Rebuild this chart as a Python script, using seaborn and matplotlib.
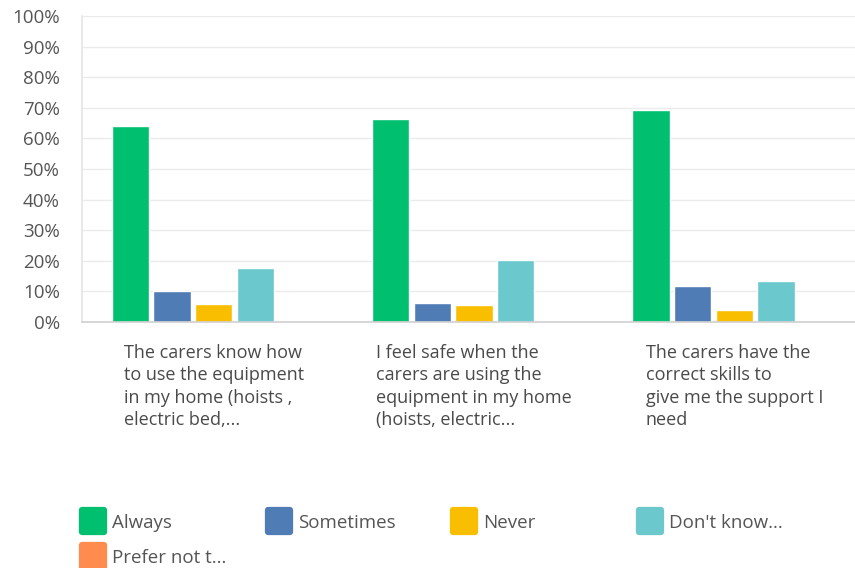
import pandas as pd
import numpy as np
import matplotlib.pyplot as plt
import seaborn as sns
from matplotlib.lines import Line2D
from matplotlib.markers import MarkerStyle

# survey questions (x categories)
questions = [
    "The carers know how\nto use the equipment\nin my home (hoists ,\nelectric bed,...",
    "I feel safe when the\ncarers are using the\nequipment in my home\n(hoists, electric...",
    "The carers have the\ncorrect skills to\ngive me the support I\nneed",
]
responses = ["Always", "Sometimes", "Never", "Don't know...", "Prefer not t..."]
colors = ["#00BF6F", "#507CB6", "#F9BE00", "#6BC8CD", "#FF8B4F"]

# percentages
always = [64.2, 66.3, 69.4]
sometimes = [10.2, 6.1, 11.8]
never = [6.0, 5.6, 3.9]
dont_know = [17.6, 20.2, 13.4]
prefer_not = [0.0, 0.0, 0.0]
yticks = list(range(0, 101, 10))

values = [always, sometimes, never, dont_know, prefer_not]
rows = []
for resp, vals in zip(responses, values):
    for q, v in zip(questions, vals):
        rows.append({"question": q, "response": resp, "pct": v})
df = pd.DataFrame(rows)

sns.set_theme(style="white")
plt.rcParams['font.family'] = ['Open Sans', 'DejaVu Sans']

fig = plt.figure(figsize=(8.55, 5.68), dpi=100)
W, H = 855, 568
# axes in pixel terms: left 82, right 855, 0% at y=322, 100% at y=16
ax = fig.add_axes([82 / W, (H - 322) / H, (855 - 82) / W, 306 / H])

sns.barplot(data=df, x="question", y="pct", hue="response",
            hue_order=responses, palette=colors, width=0.8, gap=0.1,
            saturation=1, legend=False, ax=ax)

band = 260.3
start = 83.5
ax.set_xlim(-0.5 - (start - 82) / band, -0.5 + (855 - start) / band)
ax.set_ylim(0, 100)
ax.set_yticks(yticks)
ax.set_yticklabels([f"{t}%" for t in yticks], fontsize=13.5, color="#555555")
ax.tick_params(axis="y", length=0, pad=16)
ax.tick_params(axis="x", length=0, pad=16)
for lbl in ax.get_xticklabels():
    lbl.set_multialignment("left")
    lbl.set_fontsize(13)
    lbl.set_color("#4a4a4a")
    lbl.set_linespacing(1.3)
    lbl.set_verticalalignment("top")
ax.set_xlabel("")
ax.set_ylabel("")
ax.yaxis.grid(True, color="#ebebeb", linewidth=1)
ax.set_axisbelow(True)
ax.spines["right"].set_visible(False)
ax.spines["top"].set_visible(False)
ax.spines["left"].set_color("#e6e6e6")
ax.spines["bottom"].set_color("#d0d0d0")
ax.spines["bottom"].set_linewidth(1.2)

# legend: one small legend per column, laid out like the survey widget
def handle(c):
    return Line2D([], [], linestyle="None",
                  marker=MarkerStyle("s", joinstyle="round"),
                  markersize=15.5, markerfacecolor=c, markeredgecolor=c,
                  markeredgewidth=4.5)

columns = [([0, 4], 79), ([1], 265), ([2], 450), ([3], 636)]
for idx, x0 in columns:
    leg = fig.legend([handle(colors[i]) for i in idx], [responses[i] for i in idx],
                     loc="upper left", bbox_to_anchor=(x0 / W, 1 - 514 / H),
                     frameon=False, fontsize=13.5, handlelength=1.45,
                     handletextpad=0.3, labelspacing=0.9, borderpad=0,
                     borderaxespad=0)
    for t in leg.get_texts():
        t.set_color("#555555")

fig.savefig("out.png", dpi=100)
